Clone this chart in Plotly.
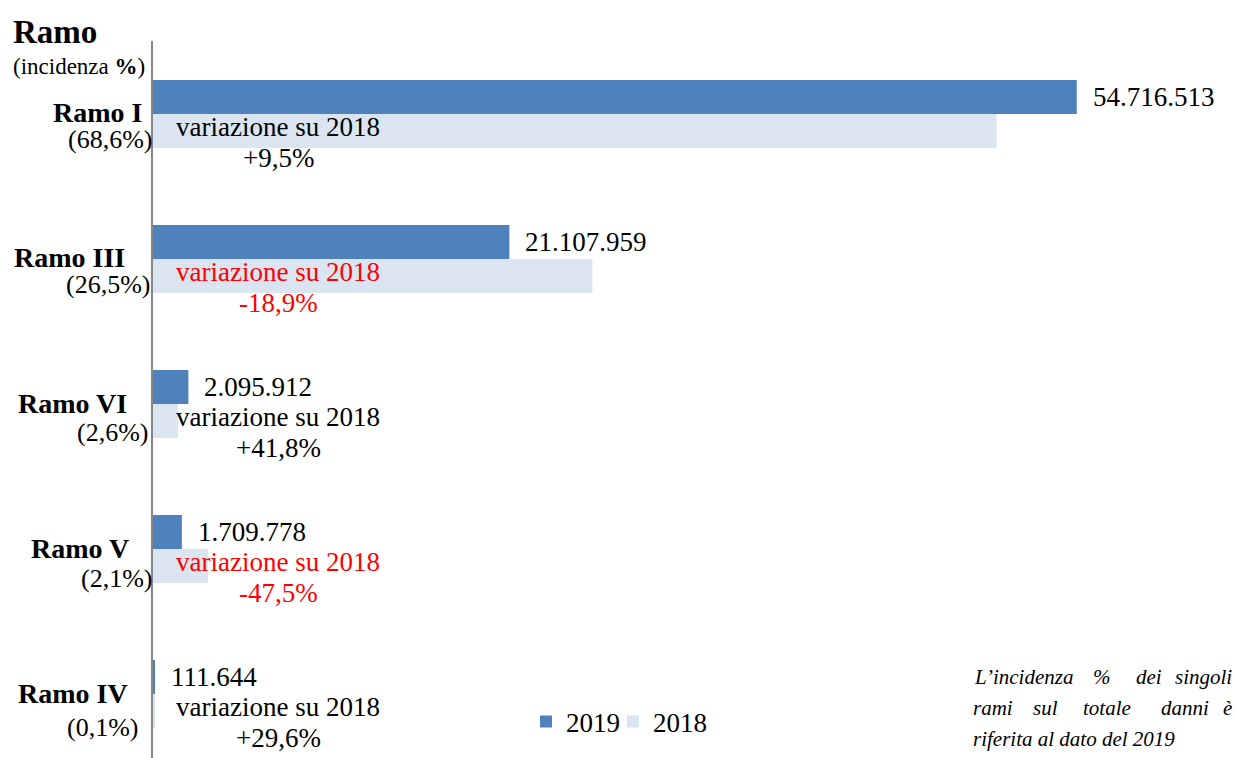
import plotly.graph_objects as go

categories = ["Ramo I", "Ramo III", "Ramo VI", "Ramo V", "Ramo IV"]
incidenza = ["(68,6%)", "(26,5%)", "(2,6%)", "(2,1%)", "(0,1%)"]
values_2019 = [54716513, 21107959, 2095912, 1709778, 111644]
values_2018 = [49969000, 26027000, 1478000, 3257000, 86100]
value_labels = ["54.716.513", "21.107.959", "2.095.912", "1.709.778", "111.644"]
variazione = ["+9,5%", "-18,9%", "+41,8%", "-47,5%", "+29,6%"]
note_lines = [
    ["L\u2019incidenza", "%", "dei", "singoli"],
    ["rami", "sul", "totale", "danni", "\u00e8"],
    ["riferita al dato del 2019"],
]

FONT = "Liberation Serif"
C2019 = "#4f81bd"
C2018 = "#dbe5f1"

W, H = 1236, 758
L, R, T, B = 153, 16, 41, 0
PW = W - L - R
PH = H - T - B

# label layout (pixel positions)
name_right = [142, 125, 127, 129, 128]
pct_right = [152, 150, 148, 152, 138]
pct_offset = [26, 26, 28, 29, 33]
note_x = [[(973, "left"), (1102, "center"), (1149, "center"), (1233, "right")],
          [(972, "left"), (1045, "center"), (1107, "center"), (1185, "center"), (1233, "right")],
          [(972, "left")]]
note_y = [677, 708, 739]


def px_x(px):
    return (px - L) / PW


def px_y(py):
    return (H - B - py) / PH


fig = go.Figure()
fig.add_trace(go.Bar(y=categories, x=values_2019, orientation="h", name="2019", legend="legend",
                     marker=dict(color=C2019, line=dict(width=0))))
fig.add_trace(go.Bar(y=categories, x=values_2018, orientation="h", name="2018", legend="legend2",
                     marker=dict(color=C2018, line=dict(width=0))))

ann = []
ann.append(dict(text="<b>Ramo</b>", xref="paper", yref="paper", x=px_x(11), y=px_y(32),
                xanchor="left", yanchor="middle", showarrow=False,
                font=dict(family=FONT, size=33, color="black")))
ann.append(dict(text="(incidenza <b>%</b>)", xref="paper", yref="paper", x=px_x(11), y=px_y(67),
                xanchor="left", yanchor="middle", showarrow=False,
                font=dict(family=FONT, size=23, color="black")))

for i, cat in enumerate(categories):
    ann.append(dict(text="<b>" + cat + "</b>", xref="paper", yref="y", x=px_x(name_right[i] + 2), y=cat,
                    xanchor="right", yanchor="middle", showarrow=False, yshift=1,
                    font=dict(family=FONT, size=28, color="black")))
    ann.append(dict(text=incidenza[i], xref="paper", yref="y", x=px_x(pct_right[i] + 2), y=cat,
                    xanchor="right", yanchor="middle", showarrow=False, yshift=-pct_offset[i],
                    font=dict(family=FONT, size=26, color="black")))
    ann.append(dict(text=value_labels[i], xref="x", yref="y", x=values_2019[i], y=cat,
                    xanchor="left", yanchor="middle", showarrow=False, xshift=14, yshift=17,
                    font=dict(family=FONT, size=27, color="black")))
    color = "red" if variazione[i].startswith("-") else "black"
    ann.append(dict(text="variazione su 2018", xref="paper", yref="y",
                    x=px_x(278), y=cat, xanchor="center", yanchor="middle", showarrow=False,
                    yshift=-13, font=dict(family=FONT, size=27, color=color)))
    ann.append(dict(text=variazione[i], xref="paper", yref="y",
                    x=px_x(278), y=cat, xanchor="center", yanchor="middle", showarrow=False,
                    yshift=-44, font=dict(family=FONT, size=27, color=color)))

# footnote, justified word by word
for li, words in enumerate(note_lines):
    for wi, word in enumerate(words):
        cx, anchor = note_x[li][wi]
        ann.append(dict(text="<i>" + word + "</i>", xref="paper", yref="paper", x=px_x(cx), y=px_y(note_y[li]),
                        xanchor=anchor, yanchor="middle", showarrow=False, borderpad=0,
                        font=dict(family=FONT, size=21, color="black")))

leg = dict(orientation="h", yanchor="middle", xanchor="left", bgcolor="rgba(0,0,0,0)",
           font=dict(family=FONT, size=27, color="black"), itemwidth=30)
fig.update_layout(
    width=W, height=H,
    margin=dict(l=L, r=R, t=T, b=B, pad=0),
    paper_bgcolor="white", plot_bgcolor="white",
    barmode="group", bargap=0.531, bargroupgap=0,
    showlegend=True,
    legend=dict(leg, x=px_x(526), y=px_y(722)),
    legend2=dict(leg, x=px_x(613), y=px_y(722)),
    annotations=ann,
    font=dict(family=FONT),
)
fig.update_xaxes(range=[0, 63.2e6], showgrid=False, zeroline=False, showticklabels=False,
                 showline=False, ticks="")
fig.update_yaxes(type="category", categoryorder="array", categoryarray=categories,
                 range=[4.441, -0.503], showgrid=False, zeroline=False, showticklabels=False,
                 showline=True, linecolor="#868686", linewidth=2, ticks="")

fig.write_html("out.html", config={"displayModeBar": False},
               post_script="document.body.style.margin='0';")
